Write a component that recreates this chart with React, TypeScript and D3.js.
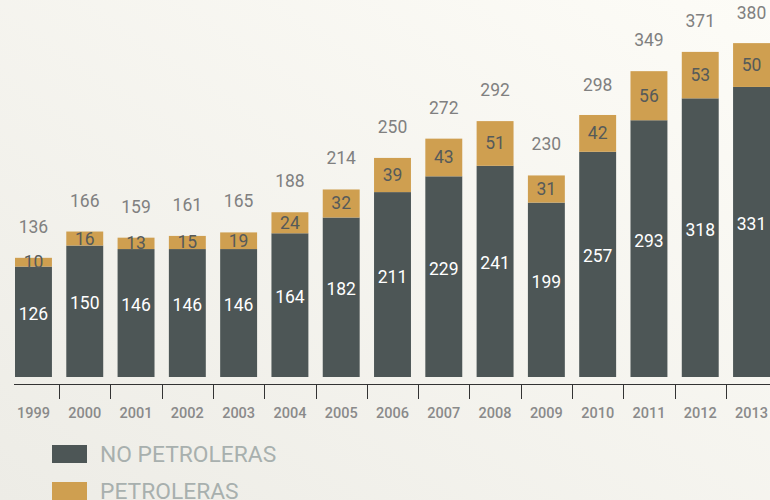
import React from "react";
import * as d3 from "d3";

const years = ["1999", "2000", "2001", "2002", "2003", "2004", "2005", "2006", "2007", "2008", "2009", "2010", "2011", "2012", "2013"];
const noPetroleras = [126, 150, 146, 146, 146, 164, 182, 211, 229, 241, 199, 257, 293, 318, 331];
const petroleras = [10, 16, 13, 15, 19, 24, 32, 39, 43, 51, 31, 42, 56, 53, 50];
const totals = [136, 166, 159, 161, 165, 188, 214, 250, 272, 292, 230, 298, 349, 371, 380];
const seriesNames = ["NO PETROLERAS", "PETROLERAS"];

const W = 770;
const H = 500;
const DARK = "#4d5656";
const GOLD = "#cf9f50";

export default function App() {
  const x = d3.scaleBand<string>()
    .domain(years)
    .range([15, 770])
    .paddingInner(0.28)
    .paddingOuter(0);

  const y = d3.scaleLinear()
    .domain([0, 380])
    .range([377, 44]);

  const bw = x.bandwidth();
  const step = x.step();

  return (
    <svg width={W} height={H} style={{ position: "absolute", left: 0, top: 0 }} fontFamily="Roboto, 'Noto Sans', sans-serif">
      <defs>
        <linearGradient id="bg" x1="0" y1="1" x2="1" y2="0">
          <stop offset="0" stopColor="#edece6" />
          <stop offset="1" stopColor="#fdfcf7" />
        </linearGradient>
      </defs>
      <rect width={W} height={H} fill="url(#bg)" />

      {years.map((yr, i) => {
        const x0 = x(yr)!;
        const cx = x0 + bw / 2;
        const yDark = y(noPetroleras[i]);
        const yGold = y(noPetroleras[i] + petroleras[i]);
        return (
          <g key={yr}>
            <rect x={x0} y={yDark} width={bw} height={y(0) - yDark} fill={DARK} />
            <rect x={x0} y={yGold} width={bw} height={yDark - yGold} fill={GOLD} />
            <text x={cx} y={(yDark + y(0)) / 2 - 2} textAnchor="middle" fontSize={17.5} fill="#ffffff">
              {noPetroleras[i]}
            </text>
            <text x={cx} y={(yGold + yDark) / 2 + 6} textAnchor="middle" fontSize={17.5} fill="#555a5a">
              {petroleras[i]}
            </text>
            <text x={cx} y={y(totals[i]) - 25} textAnchor="middle" fontSize={17.5} fill="#808080">
              {totals[i]}
            </text>
            <text x={cx} y={418} textAnchor="middle" fontSize={14.5} fontWeight={500} fill="#8a8a8a">
              {yr}
            </text>
          </g>
        );
      })}

      <line x1={14} x2={W} y1={384.5} y2={384.5} stroke="#333" strokeWidth={1} />
      {years.slice(1).map((yr) => {
        const tx = Math.round(x(yr)! - (step - bw) / 2) + 0.5;
        return <line key={yr} x1={tx} x2={tx} y1={384} y2={399} stroke="#333" strokeWidth={1} />;
      })}

      {seriesNames.map((name, i) => (
        <g key={name} transform={`translate(52, ${445 + i * 37})`}>
          <rect width={35} height={18} fill={i === 0 ? DARK : GOLD} />
          <text x={48} y={17} fontSize={22.8} fill="#a8b0ae">{name}</text>
        </g>
      ))}
    </svg>
  );
}
